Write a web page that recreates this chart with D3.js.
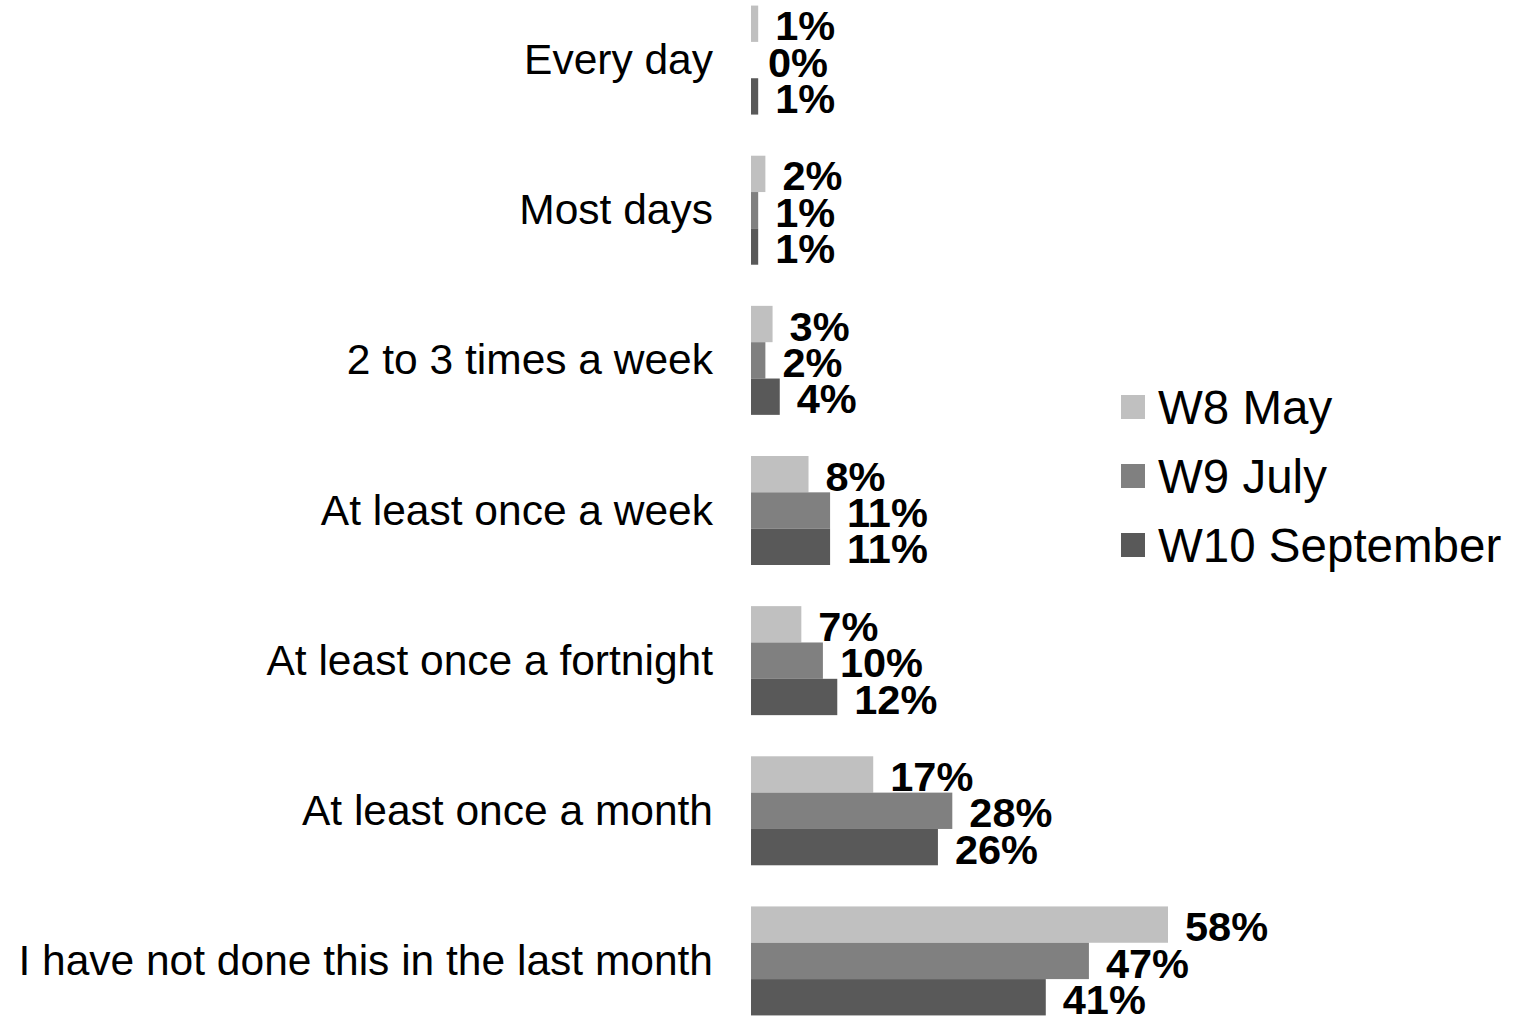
<!DOCTYPE html>
<html>
<head>
<meta charset="utf-8">
<script src="https://cdn.jsdelivr.net/npm/d3@7"></script>
<style>
  html, body { margin: 0; padding: 0; background: #fff; }
  svg { display: block; font-family: "Liberation Sans", Arial, sans-serif; }
</style>
</head>
<body>
<svg id="chart" width="1536" height="1016"></svg>
<script>
const categories = [
  'Every day',
  'Most days',
  '2 to 3 times a week',
  'At least once a week',
  'At least once a fortnight',
  'At least once a month',
  'I have not done this in the last month'
]
const seriesNames = ['W8 May', 'W9 July', 'W10 September']
const w8May = [1, 2, 3, 8, 7, 17, 58]
const w9July = [0, 1, 2, 11, 10, 28, 47]
const w10September = [1, 1, 4, 11, 12, 26, 41]
const seriesColors = ['#c0c0c0', '#808080', '#595959']

const seriesValues = [w8May, w9July, w10September]
const rows = categories.map((c, i) => ({
  category: c,
  values: seriesNames.map((s, j) => ({ series: s, value: seriesValues[j][i], idx: j }))
}))

const svg = d3.select('#chart')

const x = d3.scaleLinear().domain([0, 58]).range([751, 1168])
const y = d3.scaleBand()
    .domain(categories)
    .range([-15, 1036])
    .paddingInner(0.274)
    .paddingOuter(0.137)
const ySub = d3.scaleBand()
    .domain(seriesNames)
    .range([0, y.bandwidth()])
const color = d3.scaleOrdinal().domain(seriesNames).range(seriesColors)

// Category labels
svg.append('g')
  .attr('class', 'cat-labels')
  .selectAll('text')
  .data(categories)
  .join('text')
    .attr('x', 713)
    .attr('y', d => y(d) + y.bandwidth() / 2)
    .attr('dy', '0.33em')
    .attr('text-anchor', 'end')
    .style('font-size', '42.5px')
    .style('fill', '#000')
    .text(d => d)

// Bars and value labels
let groups = svg.append('g')
    .attr('class', 'bars')
  .selectAll('g')
  .data(rows)
  .join('g')
    .attr('transform', d => `translate(0, ${y(d.category)})`)

groups.selectAll('rect')
  .data(d => d.values)
  .join('rect')
    .attr('x', x(0))
    .attr('y', d => ySub(d.series))
    .attr('width', d => x(d.value) - x(0))
    .attr('height', ySub.bandwidth())
    .style('fill', d => color(d.series))

groups.selectAll('text')
  .data(d => d.values)
  .join('text')
    .attr('x', d => x(d.value) + 17)
    .attr('y', d => ySub(d.series) + ySub.bandwidth() / 2)
    .attr('dy', '0.4em')
    .style('font-size', '41.5px')
    .style('font-weight', 'bold')
    .style('fill', '#000')
    .text(d => d.value + '%')

// Legend
let legend = svg.append('g')
    .attr('class', 'legend')
    .attr('transform', 'translate(1121, 407)')

let items = legend.selectAll('g')
  .data(seriesNames)
  .join('g')
    .attr('transform', (d, i) => `translate(0, ${i * 69})`)

items.append('rect')
  .attr('x', 0)
  .attr('y', -12)
  .attr('width', 24)
  .attr('height', 24)
  .style('fill', d => color(d))

items.append('text')
  .attr('x', 37)
  .attr('y', 0)
  .attr('dy', '0.35em')
  .style('font-size', '47.5px')
  .style('fill', '#000')
  .text(d => d)
</script>
</body>
</html>
